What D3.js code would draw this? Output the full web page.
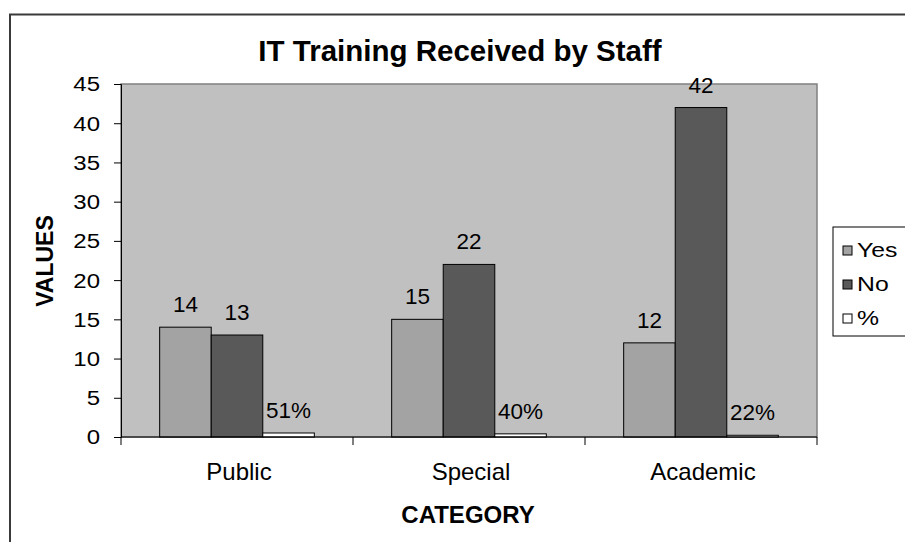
<!DOCTYPE html>
<html>
<head>
<meta charset="utf-8">
<script src="https://cdn.jsdelivr.net/npm/d3@7"></script>
<style>
  body { margin: 0; background: #fff; }
  text { font-family: "Liberation Sans", Arial, sans-serif; fill: #000; }
</style>
</head>
<body>
<script>
var categories = ["Public", "Special", "Academic"];
var seriesNames = ["Yes", "No", "%"];
var yesValues = [14, 15, 12];
var noValues = [13, 22, 42];
var pctValues = [0.51, 0.40, 0.22];
var pctLabels = ["51%", "40%", "22%"];
var yTicks = [0, 5, 10, 15, 20, 25, 30, 35, 40, 45];

var w = 905, h = 542;
var plot = { left: 121, top: 84, right: 817, bottom: 437 };
var colors = { "Yes": "#a3a3a3", "No": "#595959", "%": "#ffffff" };

var rows = categories.map(function (c, i) {
    return {
        category: c,
        values: [
            { key: "Yes", value: yesValues[i], label: String(yesValues[i]) },
            { key: "No", value: noValues[i], label: String(noValues[i]) },
            { key: "%", value: pctValues[i], label: pctLabels[i] }
        ]
    };
});

// the original chart text is a little wider than it is tall
function stretched(sel, x, y, sx) {
    return sel.attr("transform", "translate(" + x + "," + y + ") scale(" + sx + ",1)");
}

var svg = d3.select("body").append("svg").attr("width", w).attr("height", h);

// outer chart border (runs off the right and bottom)
svg.append("rect").attr("x", 10).attr("y", 14.5).attr("width", 1000).attr("height", 1000)
    .attr("fill", "#fff").attr("stroke", "#3a3a3a").attr("stroke-width", 2);

var xScale = d3.scaleBand().domain(categories).range([plot.left, plot.right]).padding(0);
var inner = d3.scaleBand().domain(seriesNames).range([0, xScale.bandwidth()])
    .paddingInner(0).paddingOuter(0.75);
var yScale = d3.scaleLinear().domain([0, 45]).range([plot.bottom, plot.top]);

svg.append("rect")
    .attr("x", plot.left).attr("y", plot.top)
    .attr("width", plot.right - plot.left).attr("height", plot.bottom - plot.top)
    .attr("fill", "#c0c0c0").attr("stroke", "#808080").attr("stroke-width", 1.5);

var groups = svg.selectAll("g.cat").data(rows).enter().append("g")
    .attr("class", "cat")
    .attr("transform", function (d) { return "translate(" + xScale(d.category) + ",0)"; });

groups.selectAll("rect").data(function (d) { return d.values; }).enter().append("rect")
    .attr("x", function (d) { return inner(d.key); })
    .attr("y", function (d) { return yScale(d.value); })
    .attr("width", inner.bandwidth())
    .attr("height", function (d) { return yScale(0) - yScale(d.value); })
    .attr("fill", function (d) { return colors[d.key]; })
    .attr("stroke", "#000").attr("stroke-width", 1);

groups.selectAll("text.lbl").data(function (d) { return d.values; }).enter().append("text")
    .attr("class", "lbl")
    .attr("x", function (d) { return inner(d.key) + inner.bandwidth() / 2; })
    .attr("y", function (d) { return yScale(d.value) - 15; })
    .attr("text-anchor", "middle")
    .style("font-size", "22.5px")
    .text(function (d) { return d.label; });

// y axis: line and ticks from d3, labels drawn stretched
var yAxisGen = d3.axisLeft(yScale).tickValues(yTicks).tickSizeOuter(0).tickSize(7).tickFormat("");
var yAxis = svg.append("g").attr("transform", "translate(" + plot.left + ",0)").call(yAxisGen);
yAxis.selectAll("line, path").attr("stroke", "#000");
svg.selectAll("text.ytick").data(yTicks).enter().append("text")
    .attr("class", "ytick")
    .attr("text-anchor", "end")
    .attr("dy", "0.36em")
    .style("font-size", "20.5px")
    .text(function (d) { return d; })
    .each(function (d) { stretched(d3.select(this), 100, yScale(d), 1.17); });

// x axis with ticks at category boundaries
var xAxis = svg.append("g").attr("transform", "translate(0," + plot.bottom + ")");
xAxis.append("line").attr("x1", plot.left).attr("x2", plot.right).attr("stroke", "#000");
xAxis.selectAll("line.tk").data(categories.concat([null])).enter().append("line")
    .attr("class", "tk")
    .attr("x1", function (d, i) { return i < categories.length ? xScale(d) : plot.right; })
    .attr("x2", function (d, i) { return i < categories.length ? xScale(d) : plot.right; })
    .attr("y1", 0).attr("y2", 8).attr("stroke", "#000");
xAxis.selectAll("text").data(categories).enter().append("text")
    .attr("x", function (d) { return xScale(d) + xScale.bandwidth() / 2 + 2; })
    .attr("y", 43)
    .attr("text-anchor", "middle")
    .style("font-size", "24px")
    .text(function (d) { return d; });

// titles
svg.append("text").attr("x", 460).attr("y", 61).attr("text-anchor", "middle")
    .style("font-size", "29.5px").style("font-weight", "bold")
    .text("IT Training Received by Staff");
svg.append("text").attr("x", 468).attr("y", 523).attr("text-anchor", "middle")
    .style("font-size", "24px").style("font-weight", "bold").text("CATEGORY");
svg.append("text").attr("transform", "translate(53,261) rotate(-90)").attr("text-anchor", "middle")
    .style("font-size", "23px").style("font-weight", "bold").text("VALUES");

// legend
var legend = svg.append("g").attr("transform", "translate(833,227)");
legend.append("rect").attr("x", 0).attr("y", 0).attr("width", 200).attr("height", 109)
    .attr("fill", "#fff").attr("stroke", "#000").attr("stroke-width", 1);
var items = legend.selectAll("g.item").data(seriesNames).enter().append("g")
    .attr("class", "item")
    .attr("transform", function (d, i) { return "translate(10," + (19 + i * 34) + ")"; });
items.append("rect").attr("x", 0).attr("y", 0).attr("width", 9).attr("height", 9)
    .attr("fill", function (d) { return colors[d]; }).attr("stroke", "#000");
items.append("text").style("font-size", "21px")
    .text(function (d) { return d; })
    .each(function () { stretched(d3.select(this), 14, 11, 1.18); });
</script>
</body>
</html>
